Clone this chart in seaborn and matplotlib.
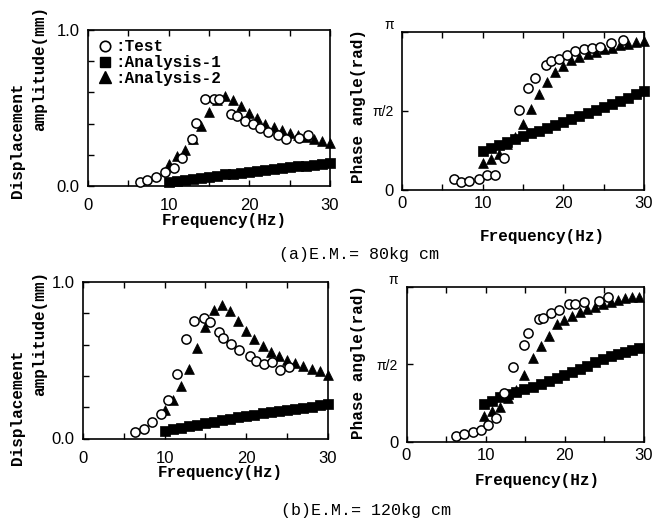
import numpy as np
import matplotlib
matplotlib.use('Agg')
import matplotlib.pyplot as plt
from matplotlib.lines import Line2D
import seaborn as sns

# ---- data (phase values in units of pi) ----
freq_an = [10, 11, 12, 13, 14, 15, 16, 17, 18, 19, 20, 21, 22, 23, 24, 25, 26, 27, 28, 29, 30]

# (a) E.M. = 80 kg cm
a_amp_test_f = [6.5, 7.3, 8.4, 9.6, 10.7, 11.7, 12.9, 13.4, 14.5, 15.6, 16.3, 17.7, 18.5,
                19.5, 20.4, 21.3, 22.3, 23.5, 24.6, 26.2, 27.3]
a_amp_test = [0.028, 0.038, 0.060, 0.092, 0.113, 0.177, 0.300, 0.405, 0.557, 0.555, 0.560,
              0.463, 0.450, 0.417, 0.400, 0.373, 0.345, 0.326, 0.300, 0.308, 0.330]
a_amp_an1 = [0.025, 0.032, 0.039, 0.046, 0.053, 0.060, 0.067, 0.074, 0.080, 0.086, 0.092,
             0.098, 0.104, 0.110, 0.116, 0.121, 0.126, 0.131, 0.137, 0.142, 0.148]
a_amp_an2 = [0.140, 0.190, 0.230, 0.300, 0.385, 0.475, 0.550, 0.575, 0.550, 0.510, 0.466,
             0.434, 0.400, 0.380, 0.360, 0.338, 0.325, 0.315, 0.300, 0.288, 0.278]

a_ph_test_f = [6.5, 7.3, 8.35, 9.6, 10.5, 11.5, 12.7, 14.5, 15.6, 16.5, 17.8, 18.5, 19.5,
               20.5, 21.5, 22.5, 23.6, 24.6, 25.9, 27.4]
a_ph_test = [0.068, 0.050, 0.058, 0.068, 0.092, 0.098, 0.205, 0.505, 0.648, 0.710, 0.790,
             0.815, 0.828, 0.852, 0.878, 0.893, 0.897, 0.908, 0.928, 0.948]
a_ph_an1 = [0.250, 0.268, 0.286, 0.304, 0.322, 0.340, 0.358, 0.376, 0.394, 0.412, 0.430,
            0.449, 0.468, 0.487, 0.506, 0.525, 0.545, 0.565, 0.585, 0.605, 0.627]
a_ph_an2 = [0.172, 0.196, 0.230, 0.290, 0.335, 0.420, 0.510, 0.605, 0.683, 0.744, 0.787,
            0.823, 0.844, 0.860, 0.876, 0.890, 0.900, 0.915, 0.925, 0.935, 0.940]

# (b) E.M. = 120 kg cm
b_amp_test_f = [6.4, 7.45, 8.5, 9.5, 10.35, 11.5, 12.6, 13.55, 14.8, 15.5, 16.7, 17.2, 18.15,
                19.15, 20.4, 21.15, 22.2, 23.2, 24.15, 25.2]
b_amp_test = [0.042, 0.063, 0.105, 0.157, 0.245, 0.410, 0.637, 0.753, 0.772, 0.747, 0.683,
              0.641, 0.604, 0.568, 0.527, 0.498, 0.476, 0.490, 0.435, 0.457]
b_amp_an1 = [0.048, 0.058, 0.067, 0.077, 0.087, 0.097, 0.106, 0.116, 0.126, 0.135, 0.145,
             0.153, 0.161, 0.168, 0.176, 0.183, 0.190, 0.197, 0.204, 0.211, 0.218]
b_amp_an2 = [0.184, 0.248, 0.334, 0.447, 0.579, 0.715, 0.818, 0.855, 0.817, 0.749, 0.689,
             0.638, 0.589, 0.553, 0.525, 0.504, 0.482, 0.461, 0.446, 0.429, 0.408]

b_ph_test_f = [6.25, 7.3, 8.4, 9.4, 10.3, 11.3, 12.35, 13.5, 14.8, 15.35, 16.7, 17.25, 18.3,
               19.3, 20.5, 21.3, 22.45, 24.3, 25.45]
b_ph_test = [0.038, 0.048, 0.061, 0.076, 0.107, 0.153, 0.312, 0.479, 0.625, 0.703, 0.791,
             0.800, 0.826, 0.850, 0.885, 0.887, 0.900, 0.905, 0.930]
b_ph_an_f = [9.8, 10.8, 11.85, 12.8, 13.8, 14.9, 15.95, 17.0, 17.95, 19.0, 19.95, 20.9,
             21.9, 22.85, 23.85, 24.8, 25.8, 26.7, 27.6, 28.5, 29.4]
b_ph_an1 = [0.242, 0.262, 0.285, 0.305, 0.322, 0.338, 0.352, 0.370, 0.390, 0.410, 0.430,
            0.450, 0.470, 0.490, 0.510, 0.530, 0.550, 0.565, 0.580, 0.592, 0.605]
b_ph_an2 = [0.165, 0.195, 0.222, 0.280, 0.330, 0.430, 0.538, 0.617, 0.680, 0.758, 0.786,
            0.810, 0.838, 0.856, 0.870, 0.885, 0.903, 0.915, 0.925, 0.930, 0.934]

legend_labels = [':Test', ':Analysis-1', ':Analysis-2']

# ---- style ----
sns.set_theme(style='ticks')
plt.rcParams['font.family'] = ['Liberation Sans', 'DejaVu Sans']
plt.rcParams.update({'text.color': 'black', 'axes.labelcolor': 'black',
                     'xtick.color': 'black', 'ytick.color': 'black',
                     'axes.edgecolor': 'black'})
mono = {'family': 'Liberation Mono', 'weight': 'bold', 'size': 11.5}

fig = plt.figure(figsize=(6.54, 5.21), dpi=100)
W, H = 654., 521.

def px_axes(l, r, t, b):
    return fig.add_axes([l / W, 1 - b / H, (r - l) / W, (b - t) / H])

ax_a1 = px_axes(88, 330, 30, 186)
ax_a2 = px_axes(402, 644, 32, 190)
ax_b1 = px_axes(83, 328, 282, 438.5)
ax_b2 = px_axes(406.5, 644, 286.5, 441.5)

def draw(ax, ft, yt, fa1, ya1, fa2, ya2, scale=1.0):
    sns.scatterplot(x=fa1, y=np.asarray(ya1) * scale, marker='s', s=58, color='black',
                    edgecolor='black', linewidth=0.5, ax=ax, clip_on=False, zorder=3)
    sns.scatterplot(x=fa2, y=np.asarray(ya2) * scale, marker='^', s=50, color='black',
                    edgecolor='black', linewidth=0.5, ax=ax, clip_on=False, zorder=4)
    sns.scatterplot(x=ft, y=np.asarray(yt) * scale, marker='o', s=44, facecolor='white',
                    edgecolor='black', linewidth=1.1, ax=ax, clip_on=False, zorder=5)

def style(ax, xpad):
    ax.set_xlim(0, 30)
    ax.set_xticks([0, 10, 20, 30])
    ax.set_xticks([5, 15, 25], minor=True)
    ax.tick_params(which='both', direction='in', length=4, width=1, top=True,
                   right=False, labelsize=12, color='black', labelcolor='black')
    ax.tick_params(axis='x', pad=xpad)
    ax.tick_params(axis='y', pad=6)
    for sp in ax.spines.values():
        sp.set_linewidth(1.2)
        sp.set_color('black')
        sp.set_visible(True)
    ax.set_xlabel('')
    ax.set_ylabel('')

# amplitude panels
for ax, d, pad in [(ax_a1, (a_amp_test_f, a_amp_test, freq_an, a_amp_an1, freq_an, a_amp_an2), 9),
                   (ax_b1, (b_amp_test_f, b_amp_test, freq_an, b_amp_an1, freq_an, b_amp_an2), 9)]:
    draw(ax, *d)
    style(ax, pad)
    ax.set_ylim(0, 1)
    ax.set_yticks([0, 0.2, 0.4, 0.6, 0.8, 1.0])
    ax.set_yticklabels(['0.0', '', '', '', '', '1.0'])

# phase panels
for ax, d in [(ax_a2, (a_ph_test_f, a_ph_test, freq_an, a_ph_an1, freq_an, a_ph_an2)),
              (ax_b2, (b_ph_test_f, b_ph_test, b_ph_an_f, b_ph_an1, b_ph_an_f, b_ph_an2))]:
    draw(ax, *d, scale=np.pi)
    style(ax, 4.5)
    ax.set_ylim(0, np.pi)
    ax.set_yticks([0, np.pi / 2, np.pi])
    ax.set_yticklabels(['0', 'π/2', 'π'])
    labs = ax.get_yticklabels()
    labs[1].set_fontsize(10)
    labs[2].set_fontsize(10)
    labs[2].set_verticalalignment('bottom')

# legend
handles = [Line2D([], [], ls='none', marker='o', ms=7.5, mfc='white', mec='black', mew=1.2),
           Line2D([], [], ls='none', marker='s', ms=7.5, mfc='black', mec='black'),
           Line2D([], [], ls='none', marker='^', ms=8, mfc='black', mec='black')]
ax_a1.legend(handles, legend_labels, loc='upper left', bbox_to_anchor=(0.045, 0.94),
             frameon=False, prop=mono, handlelength=0.8, handletextpad=0.25,
             labelspacing=0.05, borderpad=0, borderaxespad=0)

# axis labels and captions
def ftext(x, y, s, rot=0, **kw):
    fig.text(x / W, 1 - y / H, s, rotation=rot, ha='center', va='center', **kw)

ftext(224, 220, 'Frequency(Hz)', fontdict=mono)
ftext(542, 237, 'Frequency(Hz)', fontdict=mono)
ftext(220, 473, 'Frequency(Hz)', fontdict=mono)
ftext(537, 480, 'Frequency(Hz)', fontdict=mono)

ftext(18, 140, 'Displacement', rot=90, fontdict=mono)
ftext(40, 68, 'amplitude(mm)', rot=90, fontdict=mono)
ftext(18, 407, 'Displacement', rot=90, fontdict=mono)
ftext(40, 333, 'amplitude(mm)', rot=90, fontdict=mono)

ftext(358, 106, 'Phase angle(rad)', rot=90, fontdict=mono)
ftext(358, 362, 'Phase angle(rad)', rot=90, fontdict=mono)

ftext(359, 255, '(a)E.M.= 80kg cm', fontdict={'family': 'Liberation Mono', 'size': 12})
ftext(366, 510, '(b)E.M.= 120kg cm', fontdict={'family': 'Liberation Mono', 'size': 12})

fig.savefig('out.png', dpi=100)
